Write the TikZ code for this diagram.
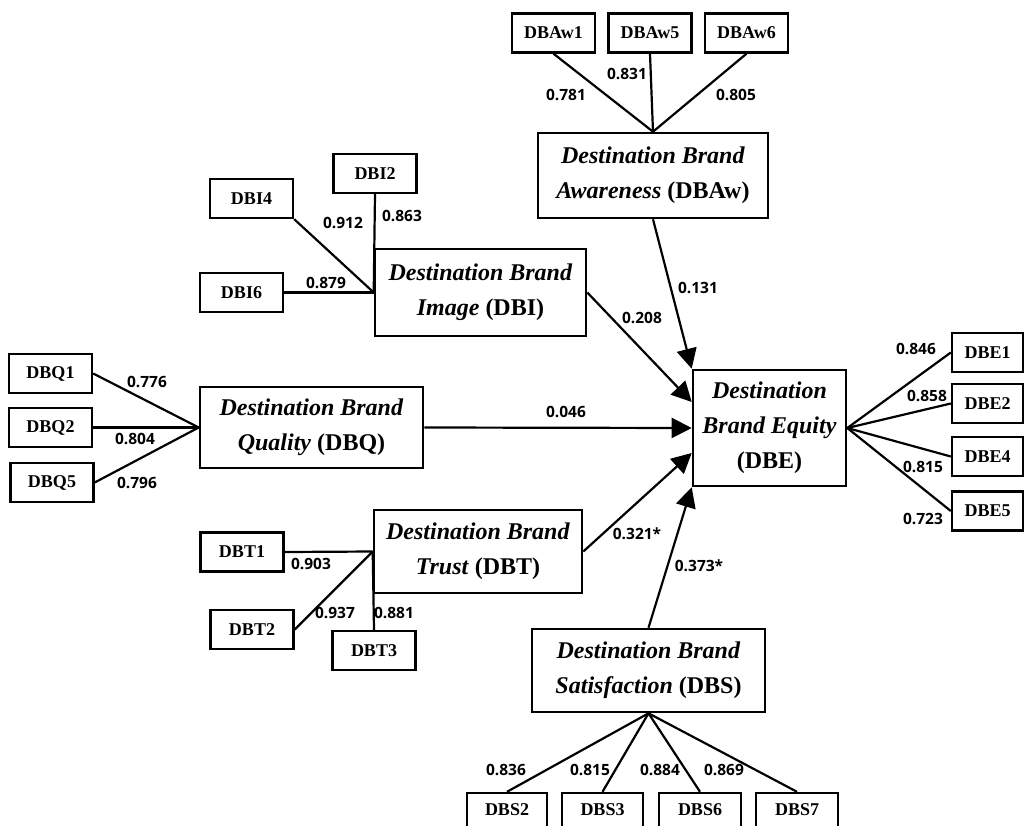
\documentclass[tikz,border=0pt]{standalone}
\usepackage{fontspec}
\setmainfont{Liberation Serif}
\newfontfamily\numfont{Open Sans}
\usetikzlibrary{arrows.meta}
\begin{document}
\begin{tikzpicture}[x=1pt,y=-1pt,
 lat/.style={draw, line width=2.6pt, align=center, inner sep=0pt, font=\fontsize{24}{35}\selectfont\bfseries},
 ind/.style={draw, line width=2.4pt, inner sep=0pt, minimum width=83pt, minimum height=39pt, font=\fontsize{18}{20}\selectfont\bfseries},
 ld/.style={line width=2.2pt},
 arr/.style={line width=2.2pt, -{Triangle[length=20pt,width=20pt]}},
 lab/.style={inner sep=0pt, font=\numfont\fontsize{15.5}{16}\selectfont\bfseries}]
\useasboundingbox (0,0) rectangle (1024,826);
\clip (0,0) rectangle (1024,826);
\fill[white] (0,0) rectangle (1024,826);

% latent constructs
\node[lat, minimum width=230pt, minimum height=85pt] (DBAw) at (653,175.5) {\textit{Destination Brand}\\\textit{Awareness} (DBAw)};
\node[lat, minimum width=211pt, minimum height=87pt] (DBI) at (480.5,292.5) {\textit{Destination Brand}\\\textit{Image} (DBI)};
\node[lat, minimum width=223pt, minimum height=81pt] (DBQ) at (311.5,427.5) {\textit{Destination Brand}\\\textit{Quality} (DBQ)};
\node[lat, minimum width=208pt, minimum height=83pt] (DBT) at (478,551.5) {\textit{Destination Brand}\\\textit{Trust} (DBT)};
\node[lat, minimum width=233pt, minimum height=83pt] (DBS) at (648.5,670.5) {\textit{Destination Brand}\\\textit{Satisfaction} (DBS)};
\node[lat, minimum width=153pt, minimum height=116pt] (DBE) at (769.5,428) {\textit{Destination}\\\textit{Brand Equity}\\(DBE)};

% indicators
\node[ind] (DBAw1) at (553.5,33) {DBAw1};
\node[ind] (DBAw5) at (650,33) {DBAw5};
\node[ind] (DBAw6) at (746.5,33) {DBAw6};
\node[ind] (DBI2) at (375,173.5) {DBI2};
\node[ind] (DBI4) at (251.5,198.5) {DBI4};
\node[ind] (DBI6) at (241.5,292.5) {DBI6};
\node[ind] (DBQ1) at (50.5,373.5) {DBQ1};
\node[ind] (DBQ2) at (50.5,427.5) {DBQ2};
\node[ind] (DBQ5) at (52,482.5) {DBQ5};
\node[ind] (DBT1) at (242,552) {DBT1};
\node[ind] (DBT2) at (252,629.5) {DBT2};
\node[ind] (DBT3) at (374,650.5) {DBT3};
\node[ind, minimum width=71pt] (DBE1) at (987.5,352.5) {DBE1};
\node[ind, minimum width=71pt] (DBE2) at (987.5,403.5) {DBE2};
\node[ind, minimum width=71pt] (DBE4) at (987.5,456.5) {DBE4};
\node[ind, minimum width=71pt] (DBE5) at (987.5,511) {DBE5};
\node[ind, minimum width=80pt, minimum height=34pt] (DBS2) at (507,810) {DBS2};
\node[ind, minimum width=81pt, minimum height=34pt] (DBS3) at (602.5,810) {DBS3};
\node[ind, minimum width=82pt, minimum height=34pt] (DBS6) at (700,810) {DBS6};
\node[ind, minimum width=82pt, minimum height=34pt] (DBS7) at (797,810) {DBS7};

% loadings
\draw[ld] (DBAw1.south) -- (DBAw.north);
\draw[ld] (DBAw5.south) -- (DBAw.north);
\draw[ld] (DBAw6.south) -- (DBAw.north);
\draw[ld] (DBI2.south) -- (DBI.west);
\draw[ld] (DBI4.south east) -- (DBI.west);
\draw[ld] (DBI6.east) -- (DBI.west);
\draw[ld] (DBQ1.east) -- (DBQ.west);
\draw[ld] (DBQ2.east) -- (DBQ.west);
\draw[ld] (DBQ5.east) -- (DBQ.west);
\draw[ld] (DBT1.east) -- (DBT.west);
\draw[ld] (DBT2.east) -- (DBT.west);
\draw[ld] (DBT3.north) -- (DBT.west);
\draw[ld] (DBE.east) -- (DBE1.west);
\draw[ld] (DBE.east) -- (DBE2.west);
\draw[ld] (DBE.east) -- (DBE4.west);
\draw[ld] (DBE.east) -- (DBE5.west);
\draw[ld] (DBS.south) -- (DBS2.north);
\draw[ld] (DBS.south) -- (DBS3.north);
\draw[ld] (DBS.south) -- (DBS6.north);
\draw[ld] (DBS.south) -- (DBS7.north);

% structural paths
\coordinate (tI) at ([yshift=26pt]DBE.west);
\coordinate (tT) at ([yshift=-25pt]DBE.west);
\draw[arr] (DBAw.south) -- (DBE.north west);
\draw[arr] (DBI.east) -- (tI);
\draw[arr] (DBQ.east) -- (DBE.west);
\draw[arr] (DBT.east) -- (tT);
\draw[arr] (DBS.north) -- (DBE.south west);

% labels
\node[lab] (l1) at (566,95) {0.781};
\node[lab] (l2) at (627,74) {0.831};
\node[lab] (l3) at (736,95) {0.805};
\node[lab] (l4) at (343,223) {0.912};
\node[lab] (l5) at (402,216) {0.863};
\node[lab] (l6) at (326,283) {0.879};
\node[lab] (l7) at (147,382) {0.776};
\node[lab] (l8) at (135,439) {0.804};
\node[lab] (l9) at (137,483) {0.796};
\node[lab] (l10) at (311,564) {0.903};
\node[lab] (l11) at (335,613) {0.937};
\node[lab] (l12) at (394,613) {0.881};
\node[lab] (l13) at (506,770) {0.836};
\node[lab] (l14) at (590,770) {0.815};
\node[lab] (l15) at (660,770) {0.884};
\node[lab] (l16) at (724,770) {0.869};
\node[lab] (l17) at (916,349) {0.846};
\node[lab] (l18) at (927,396) {0.858};
\node[lab] (l19) at (923,467) {0.815};
\node[lab] (l20) at (923,519) {0.723};
\node[lab] (l21) at (698,288) {0.131};
\node[lab] (l22) at (642,318) {0.208};
\node[lab] (l23) at (566,412) {0.046};
\node[lab] (l24) at (637,534) {0.321*};
\node[lab] (l25) at (699,566) {0.373*};
\end{tikzpicture}
\end{document}
